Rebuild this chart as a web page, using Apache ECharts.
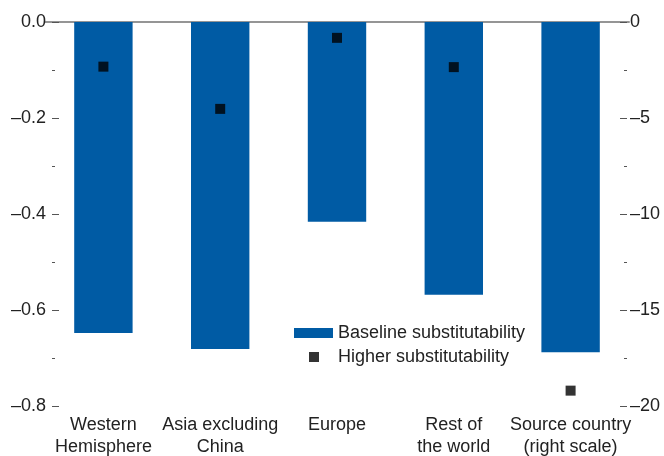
<!DOCTYPE html>
<html><head><meta charset="utf-8">
<script src="https://cdn.jsdelivr.net/npm/echarts@6/dist/echarts.min.js"></script>
<style>html,body{margin:0;padding:0;background:#fff}#c{width:664px;height:456px}</style>
</head><body><div id="c"></div>
<script>
const categories = ['Western\nHemisphere', 'Asia excluding\nChina', 'Europe', 'Rest of\nthe world', 'Source country\n(right scale)'];
const baselineLeft = [-0.648, -0.681, -0.416, -0.568, null];
const baselineRight = [null, null, null, null, -17.2];
const higherLeft = [-0.093, -0.181, -0.033, -0.094, null];
const higherRight = [null, null, null, null, -19.2];
const leftTicks = {min: -0.8, max: 0, interval: 0.2};
const rightTicks = {min: -20, max: 0, interval: 5};

const FONT = '"Liberation Sans Narrow", "Arial Narrow", "Liberation Sans", sans-serif';
const BLUE = '#005BA4';
const fmtMinus = s => s.replace('-', '\u2013');

const chart = echarts.init(document.getElementById('c'), null, {renderer: 'canvas'});
chart.setOption({
  animation: false,
  textStyle: {fontFamily: FONT},
  grid: {left: 45, right: 35, top: 22, bottom: 50, containLabel: false, outerBoundsMode: 'none'},
  legend: [
    {data: [{name: 'Baseline substitutability', icon: 'rect'}], left: 294, top: 324, padding: 0,
     itemWidth: 39, itemHeight: 10,
     textStyle: {fontFamily: FONT, fontSize: 18, color: '#222'}},
    {data: [{name: 'Higher substitutability', icon: 'rect'}], left: 309, top: 348, padding: 0,
     itemWidth: 10, itemHeight: 10,
     textStyle: {fontFamily: FONT, fontSize: 18, color: '#222', padding: [0, 0, 0, 14]}}
  ],
  xAxis: [
    {type: 'category', data: categories, position: 'bottom',
     axisLine: {lineStyle: {color: '#666', width: 1.5}},
     axisTick: {alignWithLabel: true, inside: true, length: 8, lineStyle: {color: '#555'}},
     axisLabel: {fontFamily: FONT, fontSize: 18, color: '#222', margin: 8, lineHeight: 22, interval: 0}},
    {type: 'category', data: categories, position: 'top',
     axisLine: {lineStyle: {color: '#999', width: 1.5}},
     axisTick: {show: false}, axisLabel: {show: false}}
  ],
  yAxis: [
    {type: 'value', position: 'left', min: leftTicks.min, max: leftTicks.max, interval: leftTicks.interval,
     offset: -7,
     axisLine: {show: false},
     axisTick: {show: true, inside: true, length: 7, lineStyle: {color: '#555'}},
     minorTick: {show: true, splitNumber: 2, length: 3, lineStyle: {color: '#555'}},
     splitLine: {show: false},
     axisLabel: {fontFamily: FONT, fontSize: 18, color: '#222', margin: 6,
       formatter: v => fmtMinus(v.toFixed(1))}},
    {type: 'value', position: 'right', min: rightTicks.min, max: rightTicks.max, interval: rightTicks.interval,
     offset: -2,
     axisLine: {show: false},
     axisTick: {show: true, inside: true, length: 7, lineStyle: {color: '#555'}},
     minorTick: {show: true, splitNumber: 2, length: 3, lineStyle: {color: '#555'}},
     splitLine: {show: false},
     axisLabel: {fontFamily: FONT, fontSize: 18, color: '#222', margin: 3,
       formatter: v => fmtMinus(String(v))}}
  ],
  series: [
    {name: 'Baseline substitutability', type: 'bar', yAxisIndex: 0, data: baselineLeft,
     barWidth: '50%', barGap: '-100%', itemStyle: {color: BLUE}},
    {name: 'Baseline substitutability', type: 'bar', yAxisIndex: 1, data: baselineRight,
     barWidth: '50%', barGap: '-100%', itemStyle: {color: BLUE}},
    {name: 'Higher substitutability', type: 'scatter', yAxisIndex: 0, data: higherLeft,
     symbol: 'rect', symbolSize: 10, itemStyle: {color: '#000'}, z: 5},
    {name: 'Higher substitutability', type: 'scatter', yAxisIndex: 1, data: higherRight,
     symbol: 'rect', symbolSize: 10, itemStyle: {color: '#000'}, z: 5}
  ]
});
</script></body></html>
